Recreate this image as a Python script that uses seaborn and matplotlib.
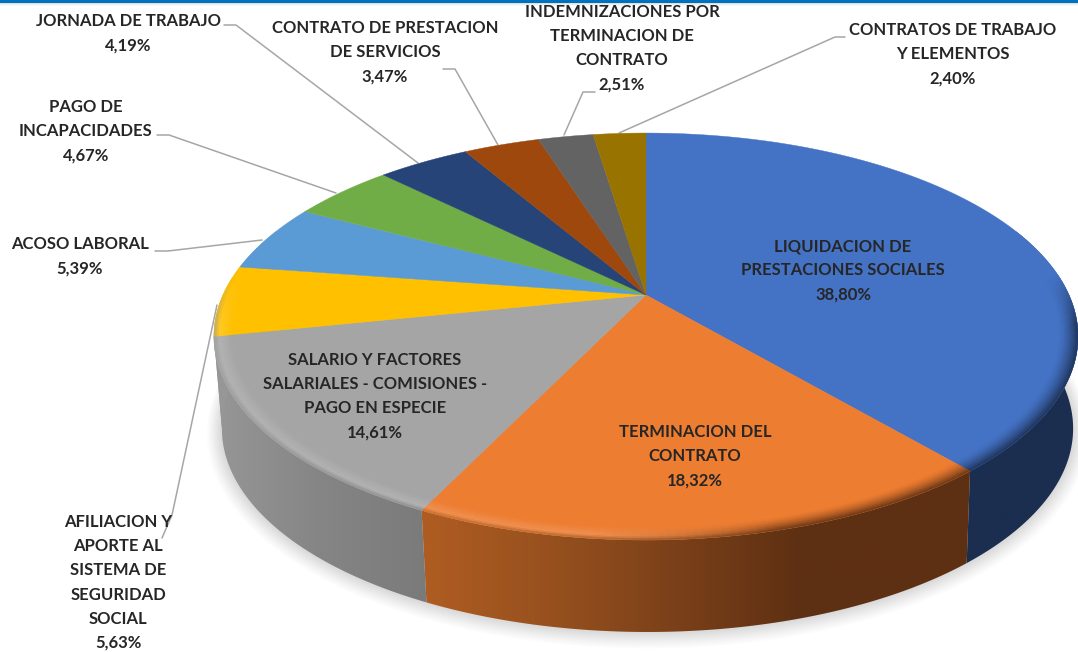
import numpy as np
import matplotlib
matplotlib.use('Agg')
import matplotlib.pyplot as plt
from matplotlib.collections import PolyCollection
from matplotlib.colors import to_rgb
from matplotlib.patches import Polygon
import seaborn as sns

# data, clockwise from 12 o'clock
categories = [
    "LIQUIDACION DE\nPRESTACIONES SOCIALES",
    "TERMINACION DEL\nCONTRATO",
    "SALARIO Y FACTORES\nSALARIALES - COMISIONES -\nPAGO EN ESPECIE",
    "AFILIACION Y\nAPORTE AL\nSISTEMA DE\nSEGURIDAD\nSOCIAL",
    "ACOSO LABORAL",
    "PAGO DE\nINCAPACIDADES",
    "JORNADA DE TRABAJO",
    "CONTRATO DE PRESTACION\nDE SERVICIOS",
    "INDEMNIZACIONES POR\nTERMINACION DE\nCONTRATO",
    "CONTRATOS DE TRABAJO\nY ELEMENTOS",
]
values = [38.80, 18.32, 14.61, 5.63, 5.39, 4.67, 4.19, 3.47, 2.51, 2.40]
face_colors = ["#4472C4", "#ED7D31", "#A5A5A5", "#FFC000", "#5B9BD5",
               "#70AD47", "#264478", "#9E480E", "#636363", "#997300"]

# label anchor (centre x, y of first line) in pixels
label_pos = [(843, 246), (695, 432), (375, 360), (118, 522), (80, 244),
             (86, 107), (128, 21), (385, 28), (622, 12), (953, 30)]
leaders = {
    3: [(217, 305), (172, 515), (162, 538)],
    4: [(155, 251), (168, 251), (262, 240)],
    5: [(157, 135), (169, 135), (336, 193)],
    6: [(224, 25), (236, 25), (418, 163)],
    7: [(443, 69), (455, 69), (498, 145)],
    8: [(595, 92), (583, 92), (564, 135)],
    9: [(845, 37), (835, 37), (619, 133)],
}

# tilted disc geometry, pixels
cx, cy = 646, 295
a, b, k = 423, 195, 0.204
depth = 92
shrink = 0.985
shift = 1.5
line_h = 24.2


def proj(theta, r=1.0):
    x = r * np.sin(theta)
    y = r * np.cos(theta)
    d = 1 + k * y
    return cx + a * x / d, cy - b * y / d


def lower(theta):
    x, y = proj(theta)
    return cx + (x - cx) * shrink + shift, y + depth


def mix(c1, c2, t):
    c1, c2 = np.array(to_rgb(c1)), np.array(to_rgb(c2))
    return tuple(c1 * (1 - t) + c2 * t)


# side colours, left to right across the visible rim
gray_rim = sns.blend_palette(["#979797", "#858585", "#7A7A7A"], 101)
orange_rim = sns.blend_palette(["#AE5C22", "#96501E", "#7A4019", "#5E3013"], 101)
navy_rim = "#1B2E50"
rim_palette = {1: (orange_rim, 430, 800), 2: (gray_rim, 212, 430)}


def rim_color(i, theta):
    if i == 0:
        return to_rgb(navy_rim)
    if i not in rim_palette:
        return gray_rim[0]
    pal, x0, x1 = rim_palette[i]
    px = proj(theta)[0]
    return pal[int(np.clip((px - x0) / (x1 - x0), 0, 1) * 100)]


sns.set_theme(style="white")
plt.rcParams['font.family'] = ['Lato', 'DejaVu Sans']

fig = plt.figure(figsize=(10.78, 6.52), dpi=100)
ax = fig.add_axes([0, 0, 1, 1])

# blue strip on top with its small shadow
for j, al in enumerate([0.25, 0.12, 0.05]):
    ax.axhspan(3 + j, 4 + j, color="#808080", alpha=al, lw=0)
ax.axhspan(0, 3.4, color="#0070C0", lw=0)

# soft shadow below the disc
t_all = np.radians(np.linspace(0, 360, 361))
lx, ly = lower(t_all)
for grow, al in zip(np.linspace(1.035, 1.0, 9), [0.018, 0.02, 0.024, 0.026, 0.03, 0.03, 0.03, 0.03, 0.03]):
    ax.fill(cx + (lx - cx) * grow, cy + 45 + (ly - cy - 45) * (grow + (grow - 1) * 0.6), color="#555555", alpha=al, lw=0, zorder=1)

# leader lines
for i, pts in leaders.items():
    ax.plot(*zip(*pts), color="#A6A6A6", lw=1.1, zorder=2, solid_capstyle='round')

edges = np.radians(np.concatenate([[0], np.cumsum(values)]) * 3.6 * 100 / sum(values))

# side wall, one gradient per slice clipped to the wall outline
for i in range(len(values)):
    th = np.linspace(edges[i], edges[i + 1], 300)
    th = th[np.cos(th) < 0.35]
    if len(th) < 2:
        continue
    ux, uy = proj(th)
    dx, dy = lower(th)
    outline = np.c_[np.r_[ux, dx[::-1]], np.r_[uy, dy[::-1]]]
    clip = Polygon(outline, closed=True, transform=ax.transData, fc='none', ec='none')
    ax.add_patch(clip)
    if i in rim_palette:
        pal, x0, x1 = rim_palette[i]
    else:
        pal, x0, x1 = ([to_rgb(navy_rim)] * 2 if i == 0 else [gray_rim[0]] * 2), 0, 1078
    xmin, xmax = outline[:, 0].min() - 2, outline[:, 0].max() + 2
    pos = np.linspace(x0, x1, len(pal))
    px = np.linspace(xmin, xmax, 600)
    grad = np.stack([np.interp(px, pos, np.array(pal)[:, c]) for c in range(3)], axis=-1)[np.newaxis, :, :]
    im = ax.imshow(grad, extent=(xmin, xmax, outline[:, 1].max() + 2, outline[:, 1].min() - 2),
                   aspect='auto', interpolation='bilinear', zorder=3)
    im.set_clip_path(clip)

ax.set_xlim(0, 1078)
ax.set_ylim(652, 0)
ax.axis('off')

# top face
for i in range(len(values)):
    th = np.linspace(edges[i], edges[i + 1], 200)
    xs, ys = proj(th)
    ax.fill(np.r_[cx, xs], np.r_[cy, ys], color=face_colors[i], lw=0.3, zorder=4)

# rounded front edge of the top face
polys, cols = [], []
rings = np.linspace(0.955, 1.0, 10)
for i in range(len(values)):
    steps = np.arange(edges[i], edges[i + 1], np.radians(1.0))
    steps = np.append(steps, edges[i + 1])
    for t0, t1 in zip(steps[:-1], steps[1:]):
        tm = (t0 + t1) / 2
        w = np.clip((0.1 - np.cos(tm)) * 4, 0, 1)
        if w <= 0:
            continue
        # light on the left, dark going right
        lit = mix(face_colors[i], "#FFFFFF", 0.14)
        dark = rim_color(i, tm)
        mid = np.clip((np.sin(tm) + 0.1) / 0.35, 0, 1)
        for r0, r1 in zip(rings[:-1], rings[1:]):
            u = (r0 - rings[0]) / (rings[-1] - rings[0])
            glow = mix(face_colors[i], lit, min(u * 1.6, 1))
            if u > 0.7:
                glow = mix(lit, dark, (u - 0.7) / 0.3 * 0.8)
            shade = mix(face_colors[i], dark, u ** 1.5)
            c = mix(mix(glow, shade, mid), face_colors[i], 1 - w)
            polys.append([proj(t0, r0), proj(t1, r0), proj(t1, r1), proj(t0, r1)])
            cols.append(c)
ax.add_collection(PolyCollection(polys, facecolors=cols, edgecolors=cols, linewidths=0.3, zorder=5))

# labels
for i, (name, val) in enumerate(zip(categories, values)):
    lines = name.split("\n") + [f"{val:.2f}".replace(".", ",") + "%"]
    x0, y0 = label_pos[i]
    for n, txt in enumerate(lines):
        ax.text(x0, y0 + n * line_h, txt, ha='center', va='center', fontsize=12,
                fontweight='bold', color="#262626", zorder=6)

fig.savefig('out.png', dpi=100)
